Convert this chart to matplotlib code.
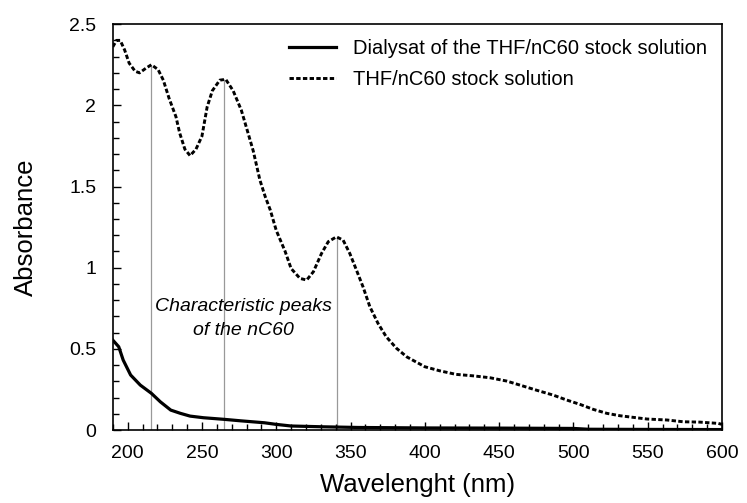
import matplotlib
matplotlib.use("Agg")
import matplotlib.pyplot as plt
from matplotlib.ticker import MultipleLocator

plt.rcParams['font.family'] = ['Liberation Sans', 'DejaVu Sans']

# THF/nC60 stock solution (dotted)
stock_x = [190, 192.5, 195, 198, 201, 205, 208, 212.5, 216, 220.5, 224, 228, 232.5, 235,
           238.5, 242, 246, 250, 253.5, 257, 262, 266, 271, 276.5, 281, 284.5, 289, 292.5,
           296, 300, 306, 310, 316, 320.5, 325, 330.5, 335, 340.5, 345, 349.5, 354, 358.5,
           363, 368.5, 374, 381, 388, 395, 400, 410, 421, 432.5, 444, 455, 464, 475, 486.5,
           495.5, 504.5, 513.5, 522.5, 531.5, 540.5, 549.5, 563, 574, 585, 597.5, 600]
stock_y = [2.36, 2.40, 2.40, 2.34, 2.26, 2.21, 2.20, 2.23, 2.25, 2.22, 2.155, 2.04, 1.93, 1.83,
           1.73, 1.69, 1.73, 1.81, 1.99, 2.09, 2.155, 2.16, 2.09, 1.97, 1.83, 1.72, 1.54, 1.44,
           1.355, 1.23, 1.10, 0.995, 0.934, 0.924, 0.975, 1.088, 1.16, 1.19, 1.17, 1.088, 0.985, 0.88,
           0.76, 0.657, 0.575, 0.503, 0.45, 0.415, 0.39, 0.365, 0.343, 0.334, 0.322, 0.302, 0.277, 0.246, 0.215,
           0.185, 0.158, 0.127, 0.103, 0.088, 0.078, 0.068, 0.062, 0.051, 0.049, 0.041, 0.035]

# Dialysat (solid)
dial_x = [190, 194, 197, 202, 208.5, 216, 222, 229, 235.5, 242, 251, 265, 276, 292, 300,
          310, 332, 355, 400, 450, 500, 510, 550, 600]
dial_y = [0.554, 0.513, 0.431, 0.339, 0.277, 0.226, 0.174, 0.123, 0.103, 0.086, 0.076, 0.066,
          0.057, 0.045, 0.035, 0.025, 0.020, 0.016, 0.013, 0.012, 0.010, 0.005, 0.004, 0.003]

# characteristic peaks
peak_x = [216, 265, 341]
peak_y = [2.25, 2.165, 1.19]

fig = plt.figure(figsize=(7.47, 5.03), dpi=100)
ax = fig.add_axes([0.151, 0.145, 0.8155, 0.807])

ax.vlines(peak_x, 0, peak_y, colors='#999999', linewidth=0.9, zorder=1)
ax.plot(dial_x, dial_y, color='black', linewidth=2.3, label='Dialysat of the THF/nC60 stock solution', zorder=3)
ax.plot(stock_x, stock_y, color='black', linewidth=2.1, linestyle=(0, (1.5, 0.8)),
        label='THF/nC60 stock solution', zorder=3)

ax.text(278, 0.685, 'Characteristic peaks\nof the nC60', style='italic', fontsize=14,
        ha='center', va='center', linespacing=1.55)

ax.set_xlim(190, 600)
ax.set_ylim(0, 2.5)
ax.xaxis.set_major_locator(MultipleLocator(50))
ax.xaxis.set_minor_locator(MultipleLocator(10))
ax.yaxis.set_major_locator(MultipleLocator(0.5))
ax.yaxis.set_minor_locator(MultipleLocator(0.1))
ax.set_yticks([0, 0.5, 1, 1.5, 2, 2.5], ['0', '0.5', '1', '1.5', '2', '2.5'])
ax.tick_params(which='both', direction='in', labelsize=14, width=1)
ax.tick_params(which='major', length=6)
ax.tick_params(which='minor', length=4)
ax.tick_params(axis='y', pad=12)
ax.tick_params(axis='x', pad=11)
for s in ax.spines.values():
    s.set_linewidth(1.2)

ax.set_xlabel('Wavelenght (nm)', fontsize=18.5, labelpad=8)
ax.set_ylabel('Absorbance', fontsize=18.5, labelpad=22)

ax.legend(loc='upper right', frameon=False, fontsize=14.5, handlelength=2.3,
          handletextpad=0.85, labelspacing=0.6, borderaxespad=0.35)

fig.savefig('out.png', dpi=100)
